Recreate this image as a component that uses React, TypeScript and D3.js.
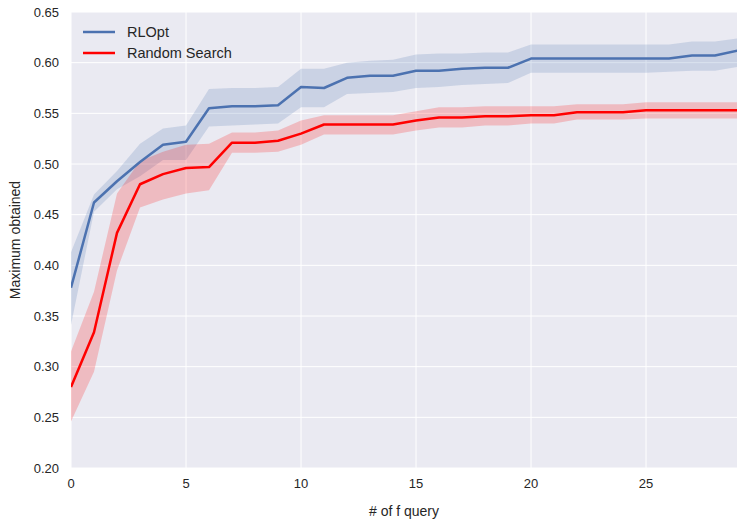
import React from "react";
import * as d3 from "d3";

const queries = [0,1,2,3,4,5,6,7,8,9,10,11,12,13,14,15,16,17,18,19,20,21,22,23,24,25,26,27,28,29];
const rlMean = [0.378,0.462,0.483,0.502,0.519,0.522,0.555,0.557,0.557,0.558,0.576,0.575,0.585,0.587,0.587,0.592,0.592,0.594,0.595,0.595,0.604,0.604,0.604,0.604,0.604,0.604,0.604,0.607,0.607,0.612];
const rlLow = [0.341,0.453,0.475,0.488,0.504,0.504,0.537,0.538,0.539,0.540,0.556,0.556,0.569,0.570,0.571,0.575,0.576,0.578,0.579,0.580,0.590,0.590,0.590,0.590,0.590,0.590,0.591,0.592,0.592,0.596];
const rlHigh = [0.413,0.470,0.493,0.520,0.535,0.538,0.574,0.575,0.575,0.576,0.594,0.594,0.600,0.602,0.603,0.608,0.609,0.609,0.610,0.610,0.618,0.618,0.618,0.618,0.618,0.618,0.618,0.621,0.621,0.624];
const rsMean = [0.280,0.334,0.432,0.480,0.490,0.496,0.497,0.521,0.521,0.523,0.530,0.539,0.539,0.539,0.539,0.543,0.546,0.546,0.547,0.547,0.548,0.548,0.551,0.551,0.551,0.553,0.553,0.553,0.553,0.553];
const rsLow = [0.246,0.295,0.395,0.457,0.465,0.471,0.474,0.511,0.511,0.512,0.519,0.529,0.529,0.529,0.529,0.533,0.536,0.536,0.538,0.538,0.540,0.540,0.544,0.544,0.544,0.545,0.545,0.545,0.545,0.545];
const rsHigh = [0.315,0.374,0.471,0.503,0.512,0.519,0.520,0.531,0.531,0.533,0.543,0.548,0.548,0.548,0.548,0.552,0.556,0.556,0.557,0.557,0.557,0.557,0.559,0.559,0.559,0.561,0.561,0.561,0.561,0.561];
const xTicks = [0,5,10,15,20,25];
const yTicks = [0.20,0.25,0.30,0.35,0.40,0.45,0.50,0.55,0.60,0.65];
const seriesNames = ["RLOpt", "Random Search"];

const W = 737, H = 523;
const left = 71, right = 738, top = 12, bottom = 468;

export default function App() {
  const x = d3.scaleLinear().domain([0, 29]).range([left, right]);
  const y = d3.scaleLinear().domain([0.2, 0.65]).range([bottom, top]);
  const line = (vals: number[]) =>
    d3.line<number>().x((_, i) => x(queries[i])).y((v) => y(v))(vals) as string;
  const area = (lo: number[], hi: number[]) =>
    d3.area<number>().x((_, i) => x(queries[i])).y0((_, i) => y(lo[i])).y1((_, i) => y(hi[i]))(queries) as string;
  const series = [
    { name: seriesNames[0], color: "#4C72B0", mean: rlMean, lo: rlLow, hi: rlHigh },
    { name: seriesNames[1], color: "#FF0000", mean: rsMean, lo: rsLow, hi: rsHigh },
  ];
  const font = "'Liberation Sans', Arial, sans-serif";
  return (
    <div style={{ position: "absolute", left: 0, top: 0 }}>
      <svg width={W} height={H} style={{ display: "block", background: "#fff" }}>
        <defs>
          <clipPath id="plot">
            <rect x={left} y={top} width={W - left} height={bottom - top} />
          </clipPath>
        </defs>
        <rect x={left} y={top} width={W - left} height={bottom - top} fill="#EAEAF2" />
        {xTicks.map((t) => (
          <line key={"gx" + t} x1={x(t)} x2={x(t)} y1={top} y2={bottom} stroke="#fff" strokeWidth={1} />
        ))}
        {yTicks.map((t) => (
          <line key={"gy" + t} x1={left} x2={W} y1={y(t)} y2={y(t)} stroke="#fff" strokeWidth={1} />
        ))}
        <g clipPath="url(#plot)">
          {series.map((s) => (
            <path key={"a" + s.name} d={area(s.lo, s.hi)} fill={s.color} fillOpacity={0.2} stroke="none" />
          ))}
          {series.map((s) => (
            <path key={"l" + s.name} d={line(s.mean)} fill="none" stroke={s.color} strokeWidth={2.5} strokeLinejoin="round" />
          ))}
        </g>
        {yTicks.map((t) => (
          <text key={"ty" + t} x={left - 12} y={y(t)} dy="0.35em" textAnchor="end" fontFamily={font} fontSize={13} fill="#262626">
            {t.toFixed(2)}
          </text>
        ))}
        {xTicks.map((t) => (
          <text key={"tx" + t} x={x(t)} y={bottom + 20} dy="0" textAnchor="middle" fontFamily={font} fontSize={13} fill="#262626">
            {t}
          </text>
        ))}
        <text x={(left + W) / 2} y={516} textAnchor="middle" fontFamily={font} fontSize={14} fill="#262626">
          # of f query
        </text>
        <text transform={`translate(20,${(top + bottom) / 2}) rotate(-90)`} textAnchor="middle" fontFamily={font} fontSize={14} fill="#262626">
          Maximum obtained
        </text>
        {series.map((s, i) => (
          <g key={"lg" + s.name} transform={`translate(0,${32 + i * 21})`}>
            <line x1={83} x2={115} y1={0} y2={0} stroke={s.color} strokeWidth={2.5} />
            <text x={127} y={0} dy="0.35em" fontFamily={font} fontSize={14.5} fill="#262626">
              {s.name}
            </text>
          </g>
        ))}
      </svg>
    </div>
  );
}
